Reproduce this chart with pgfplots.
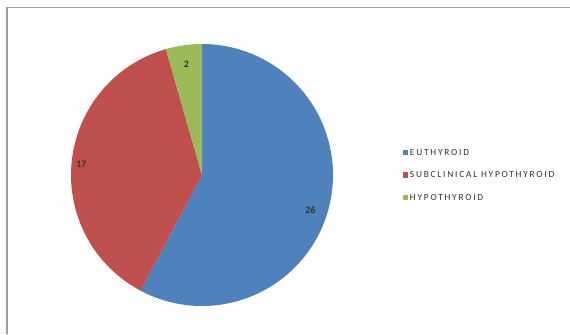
\documentclass[border=0pt]{standalone}
\usepackage{pgfplots}
\pgfplotsset{compat=1.18}
\usepackage{fontspec}
\setmainfont{Carlito}
\newfontfamily\legfont[LetterSpace=19]{Carlito}
\definecolor{cBlue}{HTML}{4F81BD}
\definecolor{cRed}{HTML}{C0504D}
\definecolor{cGreen}{HTML}{9BBB59}
% data
\def\vA{26}\def\vB{17}\def\vC{2}
\begin{document}
\begin{tikzpicture}[x=1bp,y=1bp]
\pgfmathsetmacro\tot{\vA+\vB+\vC}
\pgfmathsetmacro\aA{90}
\pgfmathsetmacro\aB{90-360*\vA/\tot}
\pgfmathsetmacro\aC{\aB-360*\vB/\tot}
\pgfmathsetmacro\aD{\aC-360*\vC/\tot}
\pgfmathsetmacro\mA{(\aA+\aB)/2}
\pgfmathsetmacro\mB{(\aB+\aC)/2}
\pgfmathsetmacro\mC{(\aC+\aD)/2}
\begin{axis}[
  at={(0,0)}, anchor=south west,
  width=570bp, height=334bp, scale only axis,
  xmin=0, xmax=570, ymin=0, ymax=334,
  hide axis, clip=false,
  legend style={at={(axis cs:403,159)}, anchor=west, draw=none, fill=none,
    font=\legfont\fontsize{9.4}{10}\selectfont\color{black!80}, row sep=14.5bp, inner sep=0pt,
    nodes={inner sep=0pt, text height=6.5bp, text depth=1.5bp},
    /tikz/every even column/.append style={column sep=0bp}},
  legend cell align=left,
  legend image code/.code={\fill[#1] (0bp,-2.6bp) rectangle (5.2bp,2.6bp);},
]
\addplot[draw=none, fill=cBlue, domain=\aB:\aA, samples=120]
  ({202+131*cos(x)},{159+131*sin(x)}) -- (axis cs:202,159) -- cycle;
\addlegendentry{\,EUTHYROID}
\addplot[draw=none, fill=cRed, domain=\aC:\aB, samples=90]
  ({202+131*cos(x)},{159+131*sin(x)}) -- (axis cs:202,159) -- cycle;
\addlegendentry{\,SUBCLINICAL HYPOTHYROID}
\addplot[draw=none, fill=cGreen, domain=\aD:\aC, samples=20]
  ({202+131*cos(x)},{159+131*sin(x)}) -- (axis cs:202,159) -- cycle;
\addlegendentry{\,HYPOTHYROID}
\node[font=\fontsize{10}{11}\selectfont\bfseries, text=black!80] at (axis cs:{202+114*cos(\mA-4)},{159+114*sin(\mA-4)}) {\vA};
\node[font=\fontsize{10}{11}\selectfont\bfseries, text=black!80] at (axis cs:{202+121*cos(\mB+1)},{159+121*sin(\mB+1)}) {\vB};
\node[font=\fontsize{10}{11}\selectfont\bfseries, text=black!80] at (axis cs:{202+112*cos(\mC)},{159+112*sin(\mC)}) {\vC};
\draw[color=black!38, line width=1.4bp] (axis cs:7,0) -- (axis cs:7,326.5) -- (axis cs:570,326.5);
\end{axis}
\pgfresetboundingbox
\path (0,0) rectangle (570,334);
\end{tikzpicture}
\end{document}
